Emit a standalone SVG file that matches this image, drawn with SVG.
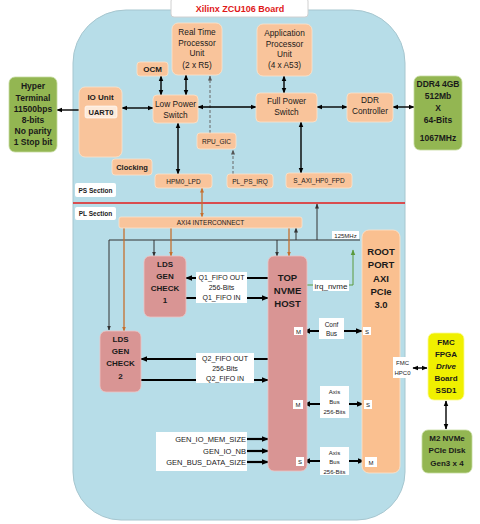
<svg xmlns="http://www.w3.org/2000/svg" width="480" height="524" viewBox="0 0 480 524">
<defs>
<marker id="ah" viewBox="0 0 10 10" refX="9" refY="5" markerWidth="6" markerHeight="6" markerUnits="userSpaceOnUse" orient="auto-start-reverse"><path d="M0,1 L10,5 L0,9 z" fill="#000"/></marker>
<marker id="ahb" viewBox="0 0 10 10" refX="9" refY="5" markerWidth="7" markerHeight="7" markerUnits="userSpaceOnUse" orient="auto-start-reverse"><path d="M0,1 L10,5 L0,9 z" fill="#000"/></marker>
<marker id="ahg" viewBox="0 0 10 10" refX="9" refY="5" markerWidth="5" markerHeight="5" markerUnits="userSpaceOnUse" orient="auto-start-reverse"><path d="M0,1 L10,5 L0,9 z" fill="#555"/></marker>
<marker id="ahd" viewBox="0 0 10 10" refX="9" refY="5" markerWidth="5" markerHeight="5" markerUnits="userSpaceOnUse" orient="auto-start-reverse"><path d="M0,1 L10,5 L0,9 z" fill="#333"/></marker>
<marker id="aho" viewBox="0 0 10 10" refX="9" refY="5" markerWidth="5" markerHeight="5" markerUnits="userSpaceOnUse" orient="auto-start-reverse"><path d="M0,1 L10,5 L0,9 z" fill="#c5702f"/></marker>
<marker id="ahgr" viewBox="0 0 10 10" refX="9" refY="5" markerWidth="6" markerHeight="6" markerUnits="userSpaceOnUse" orient="auto-start-reverse"><path d="M0,1 L10,5 L0,9 z" fill="#5a9a3c"/></marker>
</defs>
<style>
text{font-family:"Liberation Sans",Arial,sans-serif;fill:#1a1a1a;text-anchor:middle}
.or{fill:#f9c49b;stroke:#fde3cc;stroke-width:0.8}
.pk{fill:#d99594;stroke:#eec4c4;stroke-width:0.8}
.gr{fill:#93b652;stroke:#c5dba0;stroke-width:0.8}
.wl{fill:#ffffff}
.t8{font-size:8.3px}
.t85b{font-size:8.5px;font-weight:bold}
.t8b{font-size:8px;font-weight:bold}
.t9b{font-size:9.5px;font-weight:bold}
.t65{font-size:6.5px}
.t7{font-size:7px}
.t65b{font-size:6.5px;font-weight:bold}
.t6{font-size:6px}
.t75{font-size:7.5px}
.bk{stroke:#000;stroke-width:1.4;fill:none}
.bkb{stroke:#000;stroke-width:2.2;fill:none}
.ds{stroke:#666;stroke-width:1;stroke-dasharray:3,2;fill:none}
.dk{stroke:#333;stroke-width:1;fill:none}
.og{stroke:#c5702f;stroke-width:1.3;fill:none}
.gn{stroke:#5a9a3c;stroke-width:1;fill:none}
</style>

<g id="board">
<path d="M126,10 H352 A53,53 0 0 1 405,63 V472 A48,48 0 0 1 357,520 H121 A48,48 0 0 1 73,472 V63 A53,53 0 0 1 126,10 Z" fill="#b7dde8" stroke="#a6c6cf" stroke-width="1"/>
<line x1="73" y1="203" x2="405" y2="203" stroke="#e31d1d" stroke-width="1.5"/>
</g>
<g id="title">
<rect x="171" y="-2" width="137" height="19" rx="3" fill="#fff" stroke="#d0d0d0"/>
<text x="240" y="11.5" style="font-size:9px;font-weight:bold;fill:#e01818">Xilinx ZCU106 Board</text>
</g>

<g id="connectors">
<line class="bk" x1="79" y1="110" x2="57" y2="110" marker-end="url(#ah)"/>
<line class="bk" x1="122" y1="108" x2="153" y2="108" marker-start="url(#ah)" marker-end="url(#ah)"/>
<line class="bk" x1="161" y1="76" x2="161" y2="95" marker-start="url(#ah)" marker-end="url(#ah)"/>
<line class="bk" x1="186" y1="75" x2="186" y2="95" marker-start="url(#ah)" marker-end="url(#ah)"/>
<line class="ds" x1="210" y1="133" x2="210" y2="76" marker-end="url(#ahg)"/>
<line class="ds" x1="233" y1="174" x2="233" y2="150" marker-end="url(#ahg)"/>
<line class="bk" x1="178" y1="123" x2="178" y2="174" marker-start="url(#ah)" marker-end="url(#ah)"/>
<line class="bk" x1="198" y1="107" x2="256" y2="107" marker-start="url(#ah)" marker-end="url(#ah)"/>
<line class="bk" x1="284" y1="76" x2="284" y2="93" marker-start="url(#ah)" marker-end="url(#ah)"/>
<line class="bk" x1="317" y1="107" x2="347" y2="107" marker-start="url(#ah)" marker-end="url(#ah)"/>
<line class="bk" x1="393" y1="107" x2="414" y2="107" marker-start="url(#ah)" marker-end="url(#ah)"/>
<line class="bk" x1="301" y1="122" x2="301" y2="173" marker-start="url(#ah)" marker-end="url(#ah)"/>

<line class="og" x1="202" y1="188" x2="202" y2="217" marker-start="url(#aho)" marker-end="url(#aho)"/>
<path class="dk" d="M109,330 V240 H360" marker-start="url(#ahd)"/>
<line class="dk" x1="154" y1="240" x2="154" y2="256" marker-end="url(#ahd)"/>
<line class="dk" x1="277" y1="240" x2="277" y2="256" marker-end="url(#ahd)"/>
<line class="dk" x1="296" y1="240" x2="296" y2="228" marker-end="url(#ahd)"/>
<line class="dk" x1="317" y1="240" x2="317" y2="204" marker-end="url(#ahd)"/>
<line class="og" x1="124" y1="228" x2="124" y2="331" marker-end="url(#aho)"/>
<line class="og" x1="171" y1="228" x2="171" y2="256" marker-end="url(#aho)"/>
<line class="og" x1="289" y1="228" x2="289" y2="256" marker-end="url(#aho)"/>
<path class="gn" d="M306,285 H353 V250" marker-end="url(#ahgr)"/>

<line class="bkb" x1="268" y1="278" x2="186" y2="278" marker-end="url(#ahb)"/>
<line class="bkb" x1="186" y1="298" x2="268" y2="298" marker-end="url(#ahb)"/>
<line class="bkb" x1="268" y1="359" x2="141" y2="359" marker-end="url(#ahb)"/>
<line class="bkb" x1="141" y1="380" x2="268" y2="380" marker-end="url(#ahb)"/>
<line class="bkb" x1="304" y1="331" x2="362" y2="331" marker-start="url(#ahb)" marker-end="url(#ahb)"/>
<line class="bkb" x1="304" y1="404" x2="363" y2="404" marker-start="url(#ahb)" marker-end="url(#ahb)"/>
<line class="bkb" x1="304" y1="461" x2="364" y2="461" marker-start="url(#ahb)" marker-end="url(#ahb)"/>
<line class="bkb" x1="247" y1="439" x2="268" y2="439" marker-end="url(#ahb)"/>
<line class="bkb" x1="247" y1="451" x2="268" y2="451" marker-end="url(#ahb)"/>
<line class="bkb" x1="247" y1="462" x2="268" y2="462" marker-end="url(#ahb)"/>
<line class="bk" x1="413" y1="368" x2="427" y2="368" marker-start="url(#ah)" marker-end="url(#ah)"/>
<line class="bk" x1="446" y1="401" x2="446" y2="429" marker-start="url(#ah)" marker-end="url(#ah)"/>
</g>

<g id="hyper">
<rect class="gr" x="9" y="77" width="48" height="75" rx="6"/>
<text class="t85b" x="33" y="89">Hyper</text>
<text class="t85b" x="33" y="101">Terminal</text>
<text class="t85b" x="33" y="112">11500bps</text>
<text class="t85b" x="33" y="123">8-bits</text>
<text class="t85b" x="33" y="134">No parity</text>
<text class="t85b" x="33" y="145">1 Stop bit</text>
</g>
<g id="rtpu">
<rect class="or" x="172" y="23" width="50" height="52" rx="6"/>
<text class="t8" x="197" y="35">Real Time</text>
<text class="t8" x="197" y="46">Processor</text>
<text class="t8" x="197" y="56">Unit</text>
<text class="t8" x="197" y="68">(2 x R5)</text>
</g>
<g id="apu">
<rect class="or" x="257" y="24" width="55" height="52" rx="6"/>
<text class="t8" x="284.5" y="36">Application</text>
<text class="t8" x="284.5" y="47">Processor</text>
<text class="t8" x="284.5" y="57">Unit</text>
<text class="t8" x="284.5" y="68">(4 x A53)</text>
</g>
<g id="ocm">
<rect class="or" x="137" y="62" width="31" height="14" rx="3"/>
<text class="t8b" x="152.5" y="72">OCM</text>
</g>
<g id="io-unit">
<rect class="or" x="79" y="87" width="43" height="70" rx="6"/>
<text class="t8b" x="100.5" y="100">IO Unit</text>
<rect x="85" y="106" width="32" height="12" rx="2" fill="#fdeada" stroke="#fff" stroke-width="0.6"/>
<text class="t75" x="101" y="115" style="font-weight:bold">UART0</text>
</g>
<g id="lps">
<rect class="or" x="153" y="95" width="45" height="28" rx="4"/>
<text class="t8" x="175.5" y="107">Low Power</text>
<text class="t8" x="175.5" y="118">Switch</text>
</g>
<g id="fps">
<rect class="or" x="256" y="93" width="61" height="29" rx="4"/>
<text class="t8" x="286.5" y="104">Full Power</text>
<text class="t8" x="286.5" y="115">Switch</text>
</g>
<g id="ddr-ctrl">
<rect class="or" x="347" y="93" width="46" height="29" rx="4"/>
<text class="t8" x="370" y="102.5">DDR</text>
<text class="t8" x="370" y="114">Controller</text>
</g>
<g id="ddr4">
<rect class="gr" x="414" y="76" width="48" height="74" rx="6"/>
<text class="t85b" x="438" y="87">DDR4 4GB</text>
<text class="t85b" x="438" y="99">512Mb</text>
<text class="t85b" x="438" y="111">X</text>
<text class="t85b" x="438" y="123">64-Bits</text>
<text class="t85b" x="438" y="141">1067MHz</text>
</g>
<g id="rpu-gic">
<rect class="or" x="197" y="133" width="39" height="16" rx="3"/>
<text class="t65" x="216.5" y="143.5">RPU_GIC</text>
</g>
<g id="clocking">
<rect class="or" x="112" y="159" width="40" height="16" rx="3"/>
<text class="t75" x="132" y="170" style="font-weight:bold">Clocking</text>
</g>
<g id="hpm0">
<rect class="or" x="155" y="174" width="57" height="14" rx="3"/>
<text class="t65" x="183.5" y="183.5">HPM0_LPD</text>
</g>
<g id="pl-ps-irq">
<rect class="or" x="227" y="174" width="46" height="14" rx="3"/>
<text class="t65" x="250" y="183.5">PL_PS_IRQ</text>
</g>
<g id="s-axi">
<rect class="or" x="286" y="173" width="66" height="15" rx="3"/>
<text class="t65" x="319" y="183">S_AXI_HP0_FPD</text>
</g>
<g id="ps-section">
<rect class="wl" x="75" y="183" width="41" height="14" rx="2"/>
<text class="t65b" x="95.5" y="192.5">PS Section</text>
</g>
<g id="pl-section">
<rect class="wl" x="75" y="207" width="41" height="13" rx="2"/>
<text class="t65b" x="95.5" y="216">PL Section</text>
</g>
<g id="axi4">
<rect class="or" x="119" y="217" width="183" height="11" rx="2"/>
<text class="t65" x="210.5" y="225">AXI4 INTERCONNECT</text>
</g>
<g id="clk-label">
<rect class="wl" x="332" y="231" width="27" height="8"/>
<text class="t6" x="345.5" y="237.5">125MHz</text>
</g>
<g id="lds1">
<rect class="pk" x="144" y="256" width="42" height="61" rx="6"/>
<text class="t8b" x="165" y="267">LDS</text>
<text class="t8b" x="165" y="279">GEN</text>
<text class="t8b" x="165" y="291">CHECK</text>
<text class="t8b" x="165" y="303">1</text>
</g>
<g id="lds2">
<rect class="pk" x="100" y="331" width="41" height="61" rx="6"/>
<text class="t8b" x="120.5" y="342">LDS</text>
<text class="t8b" x="120.5" y="354">GEN</text>
<text class="t8b" x="120.5" y="366">CHECK</text>
<text class="t8b" x="120.5" y="379">2</text>
</g>
<g id="nvme">
<rect class="pk" x="268" y="256" width="39" height="215" rx="6"/>
<text class="t9b" x="287.5" y="281">TOP</text>
<text class="t9b" x="287.5" y="294">NVME</text>
<text class="t9b" x="287.5" y="307">HOST</text>
</g>
<g id="root-port">
<rect x="362" y="230" width="38" height="243" rx="7" fill="#fac090" stroke="#fde3cc" stroke-width="0.8"/>
<text class="t9b" x="381" y="255">ROOT</text>
<text class="t9b" x="381" y="268">PORT</text>
<text class="t9b" x="381" y="282">AXI</text>
<text class="t9b" x="381" y="295">PCIe</text>
<text class="t9b" x="381" y="308">3.0</text>
</g>
<g id="irq-label">
<rect class="wl" x="313" y="280" width="36" height="11"/>
<text class="t8" x="331" y="288.5" style="font-size:8px">irq_nvme</text>
</g>
<g id="q1-label">
<rect class="wl" x="196" y="272" width="51" height="31"/>
<text class="t7" x="221.5" y="279.5">Q1_FIFO OUT</text>
<text class="t7" x="221.5" y="289.5">256-Bits</text>
<text class="t7" x="221.5" y="300">Q1_FIFO IN</text>
</g>
<g id="q2-label">
<rect class="wl" x="196" y="353" width="58" height="30"/>
<text class="t7" x="225" y="360.5">Q2_FIFO OUT</text>
<text class="t7" x="225" y="370.5">256-Bits</text>
<text class="t7" x="225" y="381">Q2_FIFO IN</text>
</g>
<g id="conf-label">
<rect class="wl" x="319" y="318" width="25" height="21"/>
<text class="t65" x="331.5" y="326.5">Conf</text>
<text class="t65" x="331.5" y="336">Bus</text>
<rect class="wl" x="294" y="327" width="9" height="8"/>
<text class="t6" x="298.5" y="333.5">M</text>
<rect class="wl" x="363" y="327" width="8" height="8"/>
<text class="t6" x="367" y="333.5">S</text>
</g>
<g id="axis1-label">
<rect class="wl" x="320" y="386" width="29" height="32"/>
<text class="t6" x="334.5" y="393.5">Axis</text>
<text class="t6" x="334.5" y="403.5">Bus</text>
<text class="t6" x="334.5" y="413.5">256-Bits</text>
<rect class="wl" x="293" y="400" width="10" height="9"/>
<text class="t6" x="298" y="407">M</text>
<rect class="wl" x="364" y="400" width="8" height="9"/>
<text class="t6" x="368" y="407">S</text>
</g>
<g id="axis2-label">
<rect class="wl" x="320" y="447" width="29" height="28"/>
<text class="t6" x="334.5" y="454.5">Axis</text>
<text class="t6" x="334.5" y="464">Bus</text>
<text class="t6" x="334.5" y="473.5">256-Bits</text>
<rect class="wl" x="296" y="457" width="8" height="9"/>
<text class="t6" x="300" y="464">S</text>
<rect class="wl" x="365" y="457" width="12" height="10"/>
<text class="t6" x="371" y="464.5">M</text>
</g>
<g id="gen-params">
<rect class="wl" x="156" y="432" width="91" height="39"/>
<text class="t75" x="246" y="441.5" style="text-anchor:end">GEN_IO_MEM_SIZE</text>
<text class="t75" x="246" y="453.5" style="text-anchor:end">GEN_IO_NB</text>
<text class="t75" x="246" y="464.5" style="text-anchor:end">GEN_BUS_DATA_SIZE</text>
</g>
<g id="fmc-hpc0">
<rect class="wl" x="393" y="357" width="19" height="21"/>
<text class="t6" x="402.5" y="365">FMC</text>
<text class="t6" x="402.5" y="375">HPC0</text>
</g>
<g id="fmc-board">
<rect x="428" y="333" width="36" height="67" rx="6" fill="#f0f000" stroke="#fafa90" stroke-width="0.8"/>
<text class="t8b" x="446" y="345">FMC</text>
<text class="t8b" x="446" y="357">FPGA</text>
<text class="t8b" x="446" y="369" style="font-style:italic">Drive</text>
<text class="t8b" x="446" y="381">Board</text>
<text class="t8b" x="446" y="393">SSD1</text>
</g>
<g id="m2-nvme">
<rect class="gr" x="422" y="430" width="50" height="43" rx="6"/>
<text class="t8b" x="447" y="440.5">M2 NVMe</text>
<text class="t8b" x="447" y="453">PCIe Disk</text>
<text class="t8b" x="447" y="466">Gen3 x 4</text>
</g>
</svg>
